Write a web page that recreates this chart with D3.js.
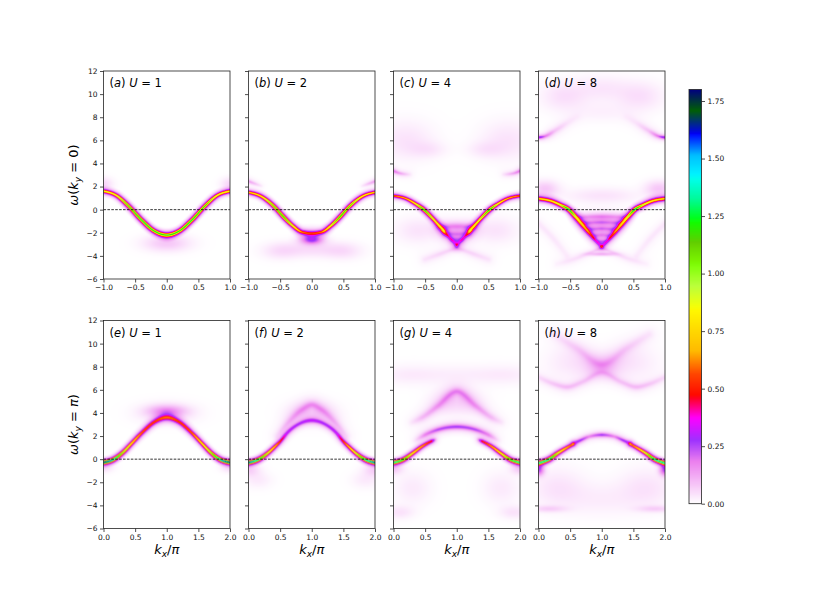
<!DOCTYPE html>
<html>
<head>
<meta charset="utf-8">
<script src="https://cdn.jsdelivr.net/npm/d3@7"></script>
<style>
body { margin: 0; background: #fff; }
svg text { font-family: "DejaVu Sans", sans-serif; }
</style>
</head>
<body>
<script>
// spectral weight A(k, w): each band is a list of [k, w, peak, width(w units)]
// blobs are diffuse patches [k, w, peak, sigma_k, sigma_w]

// ---- (a) U = 1, ky = 0
const bandA = [[-1,1.6,0.85,0.12],[-0.8,1.24,0.9,0.12],[-0.6,0.29,1.2,0.115],[-0.4,-0.89,1.3,0.115],[-0.2,-1.84,1.25,0.12],[0,-2.2,1.15,0.14],[0.2,-1.84,1.25,0.12],[0.4,-0.89,1.3,0.115],[0.6,0.29,1.2,0.115],[0.8,1.24,0.9,0.12],[1,1.6,0.85,0.12]];
const blobsA = [[0,-2.9,0.08,0.25,0.5],[-1,2.2,0.06,0.1,0.4],[1,2.2,0.06,0.1,0.4]];

// ---- (b) U = 2, ky = 0
const bandB = [[-1,1.5,0.75,0.12],[-0.8,1.15,0.85,0.12],[-0.6,0.3,1.15,0.115],[-0.45,-0.6,1.25,0.115],[-0.3,-1.4,0.95,0.12],[-0.15,-1.95,0.6,0.16],[0,-2.05,0.5,0.19],[0.15,-1.95,0.6,0.16],[0.3,-1.4,0.95,0.12],[0.45,-0.6,1.25,0.115],[0.6,0.3,1.15,0.115],[0.8,1.15,0.85,0.12],[1,1.5,0.75,0.12]];
const ghostBL = [[-1,2.45,0.14,0.15],[-0.9,2.25,0.09,0.15],[-0.8,2.05,0.03,0.15]];
const ghostBR = [[0.8,2.05,0.03,0.15],[0.9,2.25,0.09,0.15],[1,2.45,0.14,0.15]];
const blobsB = [[0,-2.6,0.25,0.12,0.28],[0,-3.4,0.05,0.35,0.5],[-0.5,-3.6,0.04,0.2,0.5],[0.5,-3.6,0.04,0.2,0.5]];

// ---- (c) U = 4, ky = 0
const bandCL = [[-1,1.2,0.6,0.13],[-0.8,0.95,0.7,0.12],[-0.65,0.5,0.9,0.115],[-0.52,0,1.3,0.115],[-0.4,-0.65,1.0,0.12],[-0.3,-1.25,0.8,0.13],[-0.2,-1.85,0.45,0.15]];
const bandCR = [[0.2,-1.85,0.45,0.15],[0.3,-1.25,0.8,0.13],[0.4,-0.65,1.0,0.12],[0.52,0,1.3,0.115],[0.65,0.5,0.9,0.115],[0.8,0.95,0.7,0.12],[1,1.2,0.6,0.13]];
const armCL = [[-0.22,-1.8,0.3,0.15],[-0.1,-2.5,0.28,0.15],[0,-3.05,0.2,0.18]];
const armCR = [[0,-3.05,0.2,0.18],[0.1,-2.5,0.28,0.15],[0.22,-1.8,0.3,0.15]];
const fillC1 = [[-0.28,-1.5,0.14,0.3],[0,-1.45,0.16,0.3],[0.28,-1.5,0.14,0.3]];
const fillC2 = [[-0.18,-2.1,0.13,0.3],[0,-2.1,0.15,0.3],[0.18,-2.1,0.13,0.3]];
const fillC3 = [[-0.08,-2.6,0.1,0.25],[0,-2.6,0.12,0.25],[0.08,-2.6,0.1,0.25]];
const ghostCL = [[-1,3.35,0.2,0.15],[-0.9,3.15,0.13,0.15],[-0.75,3.05,0.04,0.2]];
const ghostCR = [[0.75,3.05,0.04,0.2],[0.9,3.15,0.13,0.15],[1,3.35,0.2,0.15]];
const tailCL = [[-0.5,-4.3,0.04,0.3],[-0.25,-3.8,0.06,0.25],[0,-3.3,0.06,0.2]];
const tailCR = [[0,-3.3,0.06,0.2],[0.25,-3.8,0.06,0.25],[0.5,-4.3,0.04,0.3]];
const blobsC = [[-0.8,6.0,0.04,0.3,1.2],[0.8,6.0,0.04,0.3,1.2],[-0.45,5.2,0.03,0.2,0.5],[0.45,5.2,0.03,0.2,0.5],[-0.6,-1.8,0.04,0.25,0.8],[0.6,-1.8,0.04,0.25,0.8]];

// ---- (d) U = 8, ky = 0
const bandDL = [[-1,0.95,0.75,0.14],[-0.8,0.75,0.8,0.14],[-0.65,0.4,0.95,0.13],[-0.52,0,1.4,0.12],[-0.4,-0.7,0.85,0.16],[-0.3,-1.35,0.7,0.17],[-0.2,-2.0,0.55,0.17],[-0.1,-2.65,0.35,0.16],[0,-3.2,0.22,0.15]];
const bandDR = [[0,-3.2,0.22,0.15],[0.1,-2.65,0.35,0.16],[0.2,-2.0,0.55,0.17],[0.3,-1.35,0.7,0.17],[0.4,-0.7,0.85,0.16],[0.52,0,1.4,0.12],[0.65,0.4,0.95,0.13],[0.8,0.75,0.8,0.14],[1,0.95,0.75,0.14]];
const stripeD1 = [[-0.34,-0.65,0.12,0.25],[0,-0.6,0.16,0.25],[0.34,-0.65,0.12,0.25]];
const stripeD2 = [[-0.26,-1.15,0.14,0.25],[0,-1.1,0.17,0.25],[0.26,-1.15,0.14,0.25]];
const stripeD3 = [[-0.18,-1.7,0.14,0.25],[0,-1.65,0.17,0.25],[0.18,-1.7,0.14,0.25]];
const stripeD4 = [[-0.1,-2.25,0.12,0.25],[0,-2.2,0.15,0.25],[0.1,-2.25,0.12,0.25]];
const stripeD5 = [[-0.04,-2.75,0.1,0.2],[0,-2.75,0.12,0.2],[0.04,-2.75,0.1,0.2]];
const tailDL = [[-0.7,-4.7,0.02,0.3],[-0.45,-4.3,0.04,0.25],[-0.2,-3.75,0.06,0.2],[0,-3.3,0.08,0.15]];
const tailDR = [[0,-3.3,0.08,0.15],[0.2,-3.75,0.06,0.2],[0.45,-4.3,0.04,0.25],[0.7,-4.7,0.02,0.3]];
const shadeDL = [[-1,-1.2,0.035,0.3],[-0.75,-2.6,0.035,0.3],[-0.55,-4.0,0.025,0.3]];
const shadeDR = [[0.55,-4.0,0.025,0.3],[0.75,-2.6,0.035,0.3],[1,-1.2,0.035,0.3]];
const upperDL = [[-1,6.25,0.35,0.12],[-0.9,6.35,0.2,0.16],[-0.75,6.8,0.09,0.24],[-0.55,7.5,0.04,0.3],[-0.4,8.0,0.02,0.35]];
const upperDR = [[0.4,8.0,0.02,0.35],[0.55,7.5,0.04,0.3],[0.75,6.8,0.09,0.24],[0.9,6.35,0.2,0.16],[1,6.25,0.35,0.12]];
const blobsD = [[0,-3.85,0.1,0.15,0.12],[-0.6,9.8,0.045,0.25,0.9],[0.6,9.8,0.045,0.25,0.9],[0,10.5,0.035,0.3,0.8],[0,8.4,0.02,0.3,0.6],[-0.9,1.8,0.08,0.15,0.5],[0.9,1.8,0.08,0.15,0.5],[0,1.2,0.04,0.4,0.5]];

// ---- (e) U = 1, ky = pi
const bandE = [[0,-0.28,1.75,0.115],[0.15,-0.05,1.55,0.115],[0.3,0.55,1.1,0.115],[0.45,1.4,0.85,0.12],[0.6,2.25,0.62,0.14],[0.8,3.2,0.55,0.16],[1,3.6,0.55,0.18],[1.2,3.2,0.55,0.16],[1.4,2.25,0.62,0.14],[1.55,1.4,0.85,0.12],[1.7,0.55,1.1,0.115],[1.85,-0.05,1.55,0.115],[2,-0.28,1.75,0.115]];
const blobsE = [[1,4.15,0.12,0.2,0.35],[1,4.0,0.06,0.3,0.6],[0,-0.7,0.06,0.1,0.3],[2,-0.7,0.06,0.1,0.3]];

// ---- (f) U = 2, ky = pi
const bandF = [[0,-0.3,1.65,0.115],[0.15,-0.05,1.45,0.115],[0.3,0.5,1.0,0.115],[0.42,1.1,0.75,0.12],[0.52,1.65,0.5,0.13],[0.6,2.2,0.33,0.15],[0.8,3.05,0.28,0.16],[1,3.35,0.3,0.17],[1.2,3.05,0.28,0.16],[1.4,2.2,0.33,0.15],[1.48,1.65,0.5,0.13],[1.58,1.1,0.75,0.12],[1.7,0.5,1.0,0.115],[1.85,-0.05,1.45,0.115],[2,-0.3,1.65,0.115]];
const ghostF = [[0.45,2.0,0.05,0.3],[0.65,3.3,0.11,0.3],[0.85,4.3,0.14,0.3],[1,4.7,0.14,0.3],[1.15,4.3,0.14,0.3],[1.35,3.3,0.11,0.3],[1.55,2.0,0.05,0.3]];
const blobsF = [[1,4.0,0.06,0.25,0.7],[0,-0.9,0.07,0.12,0.4],[2,-0.9,0.07,0.12,0.4],[0.15,-1.8,0.03,0.15,0.5],[1.85,-1.8,0.03,0.15,0.5]];

// ---- (g) U = 4, ky = pi
const bandGL = [[0,-0.3,1.45,0.115],[0.15,-0.05,1.3,0.115],[0.3,0.5,0.9,0.12],[0.45,1.1,0.7,0.12],[0.6,1.55,0.5,0.13],[0.66,1.7,0.1,0.15]];
const bandGR = [[1.34,1.7,0.1,0.15],[1.4,1.55,0.5,0.13],[1.55,1.1,0.7,0.12],[1.7,0.5,0.9,0.12],[1.85,-0.05,1.3,0.115],[2,-0.3,1.45,0.115]];
const arcG = [[0.35,1.6,0.04,0.25],[0.5,2.1,0.18,0.22],[0.7,2.55,0.25,0.2],[1,2.8,0.27,0.2],[1.3,2.55,0.25,0.2],[1.5,2.1,0.18,0.22],[1.65,1.6,0.04,0.25]];
const lambdaG = [[0.3,3.2,0.04,0.3],[0.45,3.6,0.1,0.3],[0.7,4.6,0.14,0.3],[1,5.85,0.16,0.3],[1.3,4.6,0.14,0.3],[1.55,3.6,0.1,0.3],[1.7,3.2,0.04,0.3]];
const blobsG = [[1,5.0,0.06,0.25,0.8],[1,7.3,0.025,0.6,0.6],[0.2,7.3,0.02,0.3,0.6],[1.8,7.3,0.02,0.3,0.6],[0,-0.8,0.08,0.1,0.35],[2,-0.8,0.08,0.1,0.35],[0.3,-2.5,0.03,0.2,1],[1.7,-2.5,0.03,0.2,1],[0.1,-4.6,0.04,0.15,0.4],[1.9,-4.6,0.04,0.15,0.4]];

// ---- (h) U = 8, ky = pi
const bandHL = [[0,-0.35,1.4,0.12],[0.17,0.0,1.5,0.115],[0.3,0.5,1.0,0.12],[0.45,1.0,0.75,0.12],[0.55,1.3,0.5,0.13]];
const bandHR = [[1.45,1.3,0.5,0.13],[1.55,1.0,0.75,0.12],[1.7,0.5,1.0,0.12],[1.83,0.0,1.5,0.115],[2,-0.35,1.4,0.12]];
const arcH = [[0.55,1.35,0.25,0.15],[0.65,1.6,0.3,0.15],[0.8,1.95,0.18,0.17],[1,2.1,0.28,0.16],[1.2,1.95,0.18,0.17],[1.35,1.6,0.3,0.15],[1.45,1.35,0.25,0.15]];
const upperH1 = [[0,7.1,0.05,0.25],[0.25,6.5,0.08,0.25],[0.45,6.25,0.1,0.25],[0.7,6.7,0.08,0.25],[1,7.5,0.07,0.25],[1.3,6.7,0.08,0.25],[1.55,6.25,0.1,0.25],[1.75,6.5,0.08,0.25],[2,7.1,0.05,0.25]];
const upperH2 = [[0.25,10.8,0.04,0.4],[0.6,9.6,0.07,0.4],[1,8.2,0.1,0.4],[1.4,9.6,0.07,0.4],[1.75,10.8,0.04,0.4]];
const blobsH = [[1,8.0,0.06,0.18,0.7],[0.55,8.3,0.035,0.3,1.0],[1.45,8.3,0.035,0.3,1.0],[0,-0.9,0.25,0.06,0.35],[2,-0.9,0.25,0.06,0.35],[0.3,-2.5,0.04,0.3,1.2],[1.7,-2.5,0.04,0.3,1.2],[1,-3.5,0.025,0.4,1],[0.15,-4.3,0.06,0.2,0.2],[1.85,-4.3,0.06,0.2,0.2]];

// panel texts
const panelLetters = ["a","b","c","d","e","f","g","h"];
const panelU = [1, 2, 4, 8, 1, 2, 4, 8];
const panelBands = [
  [bandA], [bandB, ghostBL, ghostBR],
  [bandCL, bandCR, armCL, armCR, fillC1, fillC2, fillC3, ghostCL, ghostCR, tailCL, tailCR],
  [bandDL, bandDR, stripeD1, stripeD2, stripeD3, stripeD4, stripeD5, tailDL, tailDR, shadeDL, shadeDR, upperDL, upperDR],
  [bandE], [bandF, ghostF], [bandGL, bandGR, arcG, lambdaG], [bandHL, bandHR, arcH, upperH1, upperH2]
];
const panelBlobs = [blobsA, blobsB, blobsC, blobsD, blobsE, blobsF, blobsG, blobsH];

const kDomainTop = [-1, 1], kDomainBottom = [0, 2];
const wDomain = [-6, 12];
const kTicksTop = [-1, -0.5, 0, 0.5, 1];
const kTicksBottom = [0, 0.5, 1, 1.5, 2];
const wTicks = [-6, -4, -2, 0, 2, 4, 6, 8, 10, 12];
const cbarDomain = [0, 1.8];
const cbarTicks = [0, 0.25, 0.5, 0.75, 1.0, 1.25, 1.5, 1.75];

// gist_ncar colour table (matplotlib), used reversed
const ncarR = [[0,0],[0.3098,0],[0.3725,0.3993],[0.4235,0.5003],[0.5333,1],[0.7922,1],[0.8471,0.6218],[0.898,0.9235],[1,1]];
const ncarG = [[0,0],[0.051,0.3722],[0.1059,0],[0.1569,0.7202],[0.1608,0.7537],[0.1647,0.7752],[0.2157,1],[0.2588,0.9804],[0.2706,0.9804],[0.3176,1],[0.3686,0.8081],[0.4275,1],[0.5216,1],[0.6314,0.7292],[0.6863,0.2796],[0.7451,0],[0.7922,0],[0.8431,0.1753],[0.898,0.5],[1,1]];
const ncarB = [[0,0.502],[0.051,0.0222],[0.1098,1],[0.2039,1],[0.2627,0.6145],[0.3216,0],[0.4157,0],[0.4745,0.2342],[0.5333,0],[0.5804,0],[0.6314,0],[0.6902,0],[0.7373,0],[0.7922,0.9738],[0.8,1],[0.8431,1],[0.898,0.9341],[1,1]];

const chan = tab => d3.scaleLinear().domain(tab.map(d => d[0])).range(tab.map(d => d[1] * 255)).clamp(true);
const cR = chan(ncarR), cG = chan(ncarG), cB = chan(ncarB);
const toT = d3.scaleLinear().domain(cbarDomain).range([1, 0]).clamp(true);
function cmap(v) { const t = toT(v); return [cR(t), cG(t), cB(t)]; }

// layout
const W = 830, H = 593;
const left0 = 103.5, colStep = 145, pw = 126.5, ph = 208;
const rowTop = [71, 320.5];
const cbX = 689, cbW = 12.5, cbTop = 89.5, cbBottom = 503.7;
const SS = 2; // supersampling of the heat images

const svg = d3.select("body").append("svg").attr("width", W).attr("height", H);
const measure = d3.select("body").append("svg").attr("width", 0).attr("height", 0)
  .style("position", "absolute").style("left", "0px").style("top", "0px");
const mpath = measure.append("path");

function heatImage(bands, blobs, x, y) {
  const gw = Math.round(pw * SS), gh = Math.round(ph * SS);
  const total = new Float32Array(gw * gh);
  const tmp = new Float32Array(gw * gh);
  const unit = Math.abs(y(1) - y(0)) * SS;
  const kUnit = Math.abs(x(1) - x(0)) * SS;
  const line = d3.line().curve(d3.curveMonotoneX);
  for (const band of bands) {
    tmp.fill(0);
    const pts = band.map(d => [x(d[0]) * SS, y(d[1]) * SS]);
    const node = mpath.attr("d", line(pts)).node();
    const L = node.getTotalLength();
    const xsDom = pts.map(q => q[0]);
    const amp = d3.scaleLinear().domain(xsDom).range(band.map(d => d[2])).clamp(true);
    const gam = d3.scaleLinear().domain(xsDom).range(band.map(d => d[3] * unit)).clamp(true);
    for (let s = 0; s <= L; s += 0.5) {
      const p = node.getPointAtLength(s);
      const A = amp(p.x), g = gam(p.x), R = 5 * g, g2 = g * g, R2 = R * R;
      const y0 = Math.max(0, Math.floor(p.y - R)), y1 = Math.min(gh - 1, Math.ceil(p.y + R));
      const x0 = Math.max(0, Math.floor(p.x - R)), x1 = Math.min(gw - 1, Math.ceil(p.x + R));
      for (let j = y0; j <= y1; j++) {
        const dy = j + 0.5 - p.y;
        for (let i = x0; i <= x1; i++) {
          const dx = i + 0.5 - p.x;
          const d2 = dx * dx + dy * dy;
          if (d2 > R2) continue;
          const v = A * (1 / (1 + d2 / g2) - 1 / 26) * 26 / 25;
          const idx = j * gw + i;
          if (v > tmp[idx]) tmp[idx] = v;
        }
      }
    }
    for (let i = 0; i < total.length; i++) total[i] += tmp[i];
  }
  for (const b of blobs) {
    const cx = x(b[0]) * SS, cy = y(b[1]) * SS;
    const sx = b[3] * kUnit, sy = b[4] * unit;
    const y0 = Math.max(0, Math.floor(cy - 3 * sy)), y1 = Math.min(gh - 1, Math.ceil(cy + 3 * sy));
    const x0 = Math.max(0, Math.floor(cx - 3 * sx)), x1 = Math.min(gw - 1, Math.ceil(cx + 3 * sx));
    for (let j = y0; j <= y1; j++) {
      const dy = (j + 0.5 - cy) / sy;
      for (let i = x0; i <= x1; i++) {
        const dx = (i + 0.5 - cx) / sx;
        total[j * gw + i] += b[2] * Math.exp(-0.5 * (dx * dx + dy * dy));
      }
    }
  }
  const canvas = document.createElement("canvas");
  canvas.width = gw; canvas.height = gh;
  const ctx = canvas.getContext("2d");
  const img = ctx.createImageData(gw, gh);
  for (let i = 0; i < total.length; i++) {
    const c = cmap(total[i]);
    img.data[i * 4] = c[0]; img.data[i * 4 + 1] = c[1]; img.data[i * 4 + 2] = c[2]; img.data[i * 4 + 3] = 255;
  }
  ctx.putImageData(img, 0, 0);
  return canvas.toDataURL();
}

const tickFont = 7.5;

function styleAxis(g) {
  g.select(".domain").remove();
  g.selectAll(".tick line").attr("stroke", "#222").attr("stroke-width", 0.8);
  g.selectAll(".tick text").attr("font-size", tickFont).attr("fill", "#111")
    .attr("font-family", "DejaVu Sans, sans-serif");
}

for (let p = 0; p < 8; p++) {
  const row = p < 4 ? 0 : 1, col = p % 4;
  const gx = left0 + col * colStep, gy = rowTop[row];
  const x = d3.scaleLinear().domain(row === 0 ? kDomainTop : kDomainBottom).range([0, pw]);
  const y = d3.scaleLinear().domain(wDomain).range([ph, 0]);
  const g = svg.append("g").attr("transform", `translate(${gx},${gy})`);

  g.append("image").attr("x", 0).attr("y", 0).attr("width", pw).attr("height", ph)
    .attr("preserveAspectRatio", "none")
    .attr("href", heatImage(panelBands[p], panelBlobs[p], x, y));

  // Fermi level
  g.append("line").attr("x1", 0).attr("x2", pw).attr("y1", y(0)).attr("y2", y(0))
    .attr("stroke", "#000").attr("stroke-width", 0.8).attr("stroke-dasharray", "2.6,1.3");

  const ax = d3.axisBottom(x).tickValues(row === 0 ? kTicksTop : kTicksBottom)
    .tickFormat(d3.format(".1f")).tickSize(3.5).tickPadding(2.5);
  g.append("g").attr("transform", `translate(0,${ph})`).call(ax).call(styleAxis);

  const ay = d3.axisLeft(y).tickValues(wTicks).tickSize(3.5).tickPadding(2.5)
    .tickFormat(col === 0 ? d3.format("d") : () => "");
  g.append("g").call(ay).call(styleAxis);

  g.append("rect").attr("width", pw).attr("height", ph).attr("fill", "none")
    .attr("stroke", "#222").attr("stroke-width", 0.8);

  // panel title
  const t = g.append("text").attr("x", 6).attr("y", 16).attr("font-size", 11.5).attr("fill", "#000");
  t.append("tspan").text("(");
  t.append("tspan").attr("font-style", "italic").text(panelLetters[p]);
  t.append("tspan").text(") ");
  t.append("tspan").attr("font-style", "italic").text("U");
  t.append("tspan").text(" = " + panelU[p]);

  if (row === 1) {
    const xl = svg.append("text").attr("x", gx + pw / 2).attr("y", 554).attr("text-anchor", "middle")
      .attr("font-size", 13);
    xl.append("tspan").attr("font-style", "italic").text("k");
    xl.append("tspan").attr("font-style", "italic").attr("font-size", 9).attr("dy", 3).text("x");
    xl.append("tspan").attr("dy", -3).text("/");
    xl.append("tspan").attr("font-style", "italic").text("π");
  }
  if (col === 0) {
    const yl = svg.append("text").attr("transform", `translate(78,${gy + ph / 2}) rotate(-90)`)
      .attr("text-anchor", "middle").attr("font-size", 13);
    yl.append("tspan").attr("font-style", "italic").text("ω");
    yl.append("tspan").text("(");
    yl.append("tspan").attr("font-style", "italic").text("k");
    yl.append("tspan").attr("font-style", "italic").attr("font-size", 9).attr("dy", 3).text("y");
    yl.append("tspan").attr("dy", -3).text(" = ");
    if (row === 0) yl.append("tspan").text("0");
    else yl.append("tspan").attr("font-style", "italic").text("π");
    yl.append("tspan").text(")");
  }
}

// colour bar
const cy = d3.scaleLinear().domain(cbarDomain).range([cbBottom, cbTop]);
const cbCanvas = document.createElement("canvas");
cbCanvas.width = 1; cbCanvas.height = 400;
const cbCtx = cbCanvas.getContext("2d");
const cbImg = cbCtx.createImageData(1, 400);
for (let j = 0; j < 400; j++) {
  const c = cmap(cy.invert(cbTop + (j + 0.5) * (cbBottom - cbTop) / 400));
  cbImg.data[j * 4] = c[0]; cbImg.data[j * 4 + 1] = c[1]; cbImg.data[j * 4 + 2] = c[2]; cbImg.data[j * 4 + 3] = 255;
}
cbCtx.putImageData(cbImg, 0, 0);
svg.append("image").attr("x", cbX).attr("y", cbTop).attr("width", cbW).attr("height", cbBottom - cbTop)
  .attr("preserveAspectRatio", "none").attr("href", cbCanvas.toDataURL());
svg.append("g").attr("transform", `translate(${cbX + cbW},0)`)
  .call(d3.axisRight(cy).tickValues(cbarTicks).tickFormat(d3.format(".2f")).tickSize(3.5).tickPadding(2.5))
  .call(styleAxis);
svg.append("rect").attr("x", cbX).attr("y", cbTop).attr("width", cbW).attr("height", cbBottom - cbTop)
  .attr("fill", "none").attr("stroke", "#222").attr("stroke-width", 0.8);
</script>
</body>
</html>
